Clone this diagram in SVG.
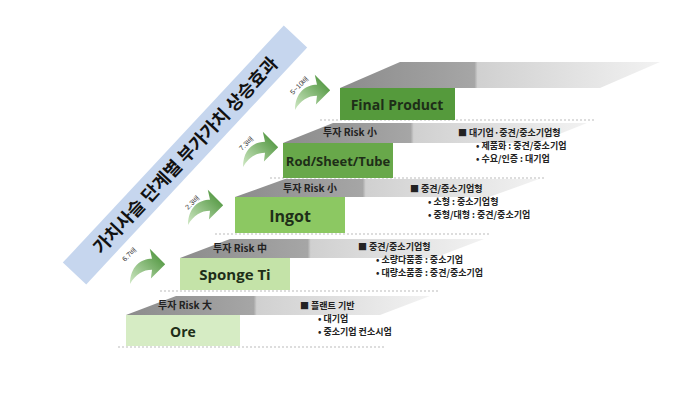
<svg xmlns="http://www.w3.org/2000/svg" width="683" height="400" viewBox="0 0 683 400">
<defs>
<linearGradient id="tr" x1="0" y1="0" x2="1" y2="0"><stop offset="0" stop-color="#8c8c8c"/><stop offset="0.42" stop-color="#a6a6a6"/><stop offset="0.43" stop-color="#d0d0d0"/><stop offset="1" stop-color="#f2f2f2"/></linearGradient>
<linearGradient id="ar" x1="0" y1="1" x2="1" y2="0"><stop offset="0" stop-color="#cfe8c4"/><stop offset="1" stop-color="#3e8a2c"/></linearGradient>
<path id="arrow" d="M0,20 C0,4 10,-3 20,-3 L18,-12 L32,2 L19,15 L20,7 C12,7 5,11 0,20 Z"/>
</defs>
<style>
.t{font-family:"Noto Sans CJK KR","Liberation Sans",sans-serif;font-weight:bold}
.box{font-family:"Open Sans","Liberation Sans",sans-serif;font-weight:bold;fill:#1e2e18;text-anchor:middle}
.risk{font-size:10px;fill:#222;text-anchor:middle}
.d{font-size:9px;fill:#222}
.sep{stroke:#bbb;stroke-dasharray:2 2;stroke-width:1}
.lbl{font-size:7px;fill:#333;font-family:"Liberation Sans",sans-serif}
</style>
<rect width="683" height="400" fill="#fff"/>
<g id="banner" transform="translate(185,155) rotate(-47)">
<rect x="-162" y="-16" width="324" height="32" fill="#c6d6ee"/>
<text class="t" x="0" y="7" font-size="18" text-anchor="middle" fill="#111">가치사슬 단계별 부가가치 상승효과</text>
</g>
<g id="connectors">
<line class="sep" x1="118" y1="347" x2="385" y2="347"/>
<line class="sep" x1="160" y1="291" x2="440" y2="291"/>
<line class="sep" x1="215" y1="234" x2="490" y2="234"/>
<line class="sep" x1="270" y1="178" x2="545" y2="178"/>
<line class="sep" x1="320" y1="120" x2="595" y2="120"/>
</g>
<g id="treads">
<polygon points="126,315 380,315 430,296 176,296" fill="url(#tr)"/>
<polygon points="180,258 434,258 484,239 230,239" fill="url(#tr)"/>
<polygon points="235,197 489,197 539,179 285,179" fill="url(#tr)"/>
<polygon points="283,143 537,143 587,123 333,123" fill="url(#tr)"/>
<polygon points="340,88 600,88 660,62 400,62" fill="url(#tr)"/>
</g>
<g id="ore"><rect x="126" y="315" width="114" height="31" fill="#d6ecc4"/><text class="box" x="183" y="337" font-size="14">Ore</text></g>
<g id="sponge"><rect x="180" y="258" width="110" height="32" fill="#c4e3a8"/><text class="box" x="235" y="280" font-size="15">Sponge Ti</text></g>
<g id="ingot"><rect x="235" y="197" width="110" height="36" fill="#8cc862"/><text class="box" x="290" y="222" font-size="16">Ingot</text></g>
<g id="rod"><rect x="283" y="143" width="110" height="35" fill="#68a84a"/><text class="box" x="338" y="166" font-size="13">Rod/Sheet/Tube</text></g>
<g id="final"><rect x="340" y="88" width="115" height="32" fill="#559a3c"/><text class="box" x="397" y="110" font-size="14">Final Product</text></g>
<g id="texts" class="t">
<text class="t risk" x="185" y="309">투자 Risk 大</text>
<text class="t d" x="300" y="309">■ 플랜트 기반</text>
<text class="t d" x="318" y="322">• 대기업</text>
<text class="t d" x="318" y="335">• 중소기업 컨소시엄</text>
<text class="t risk" x="240" y="252">투자 Risk 中</text>
<text class="t d" x="358" y="250">■ 중견/중소기업형</text>
<text class="t d" x="376" y="263">• 소량다품종 : 중소기업</text>
<text class="t d" x="376" y="276">• 대량소품종 : 중견/중소기업</text>
<text class="t risk" x="310" y="192">투자 Risk 小</text>
<text class="t d" x="410" y="192">■ 중견/중소기업형</text>
<text class="t d" x="428" y="205">• 소형 : 중소기업형</text>
<text class="t d" x="428" y="218">• 중형/대형 : 중견/중소기업</text>
<text class="t risk" x="350" y="136">투자 Risk 小</text>
<text class="t d" x="458" y="136">■ 대기업·중견/중소기업형</text>
<text class="t d" x="476" y="149">• 제품화 : 중견/중소기업</text>
<text class="t d" x="476" y="162">• 수요/인증 : 대기업</text>
</g>
<g id="arrows">
<use href="#arrow" transform="translate(130,262) scale(1.1)" fill="url(#ar)"/>
<use href="#arrow" transform="translate(188,203) scale(1.1)" fill="url(#ar)"/>
<use href="#arrow" transform="translate(243,145) scale(1.1)" fill="url(#ar)"/>
<use href="#arrow" transform="translate(295,88) scale(1.1)" fill="url(#ar)"/>
<text class="lbl" transform="translate(125,262) rotate(-45)">6.7배</text>
<text class="lbl" transform="translate(188,210) rotate(-45)">2.3배</text>
<text class="lbl" transform="translate(242,151) rotate(-45)">7.3배</text>
<text class="lbl" transform="translate(293,95) rotate(-45)">5~10배</text>
</g>
</svg>
